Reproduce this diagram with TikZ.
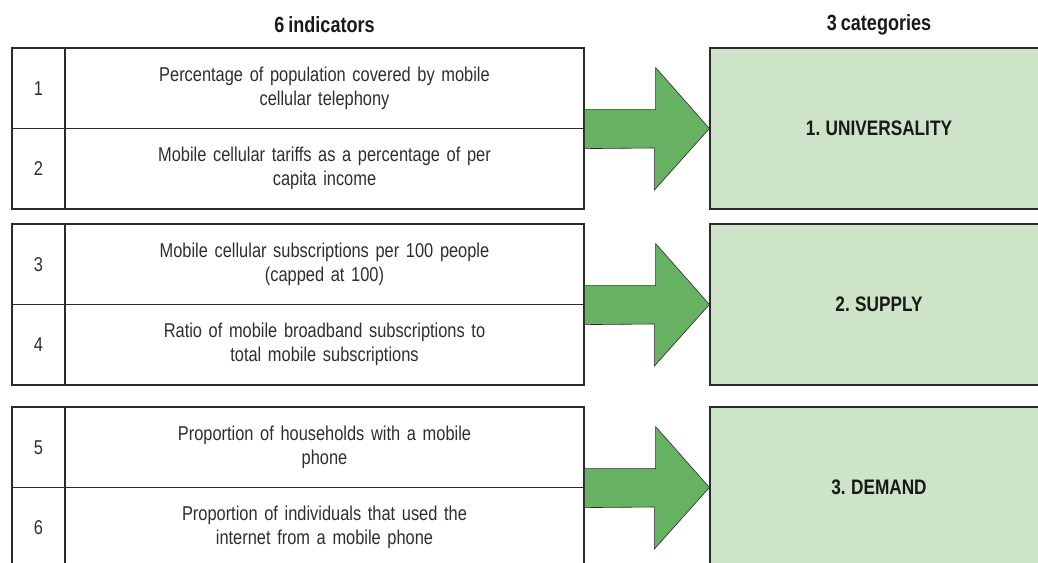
\documentclass[tikz,border=0pt]{standalone}
\usepackage{fontspec}
\setmainfont{Liberation Sans}[FakeStretch=0.82,WordSpace=0.8]
\definecolor{arrowgreen}{HTML}{66B262}
\definecolor{catgreen}{HTML}{CDE4C8}
\definecolor{linegray}{HTML}{2A2A2A}
\definecolor{textgray}{HTML}{2E2E2E}
\begin{document}
\begin{tikzpicture}[
x=1pt,y=1pt,
numcell/.style={
rectangle,draw=linegray,line width=1.2pt,
minimum width=53pt,
minimum height=80.5pt,
inner sep=0pt,
text=textgray,
font=\fontsize{20}{24}\selectfont
},
txtcell/.style={
rectangle,draw=linegray,line width=1.2pt,
align=center,
text width=440pt,
minimum width=519pt,
minimum height=80.5pt,
inner sep=0pt,
text=textgray,
font=\fontsize{20}{24}\selectfont
},
cat/.style={
rectangle,draw=linegray,line width=1.2pt,
fill=catgreen,
minimum width=338pt,
minimum height=161pt,
inner sep=0pt,
text=black!90,
font=\fontsize{21}{25}\selectfont\bfseries
},
head/.style={text=black!90,font=\fontsize{22}{26}\selectfont\bfseries},
bigarrow/.style={fill=arrowgreen,draw=linegray,line width=0.6pt,line join=miter}
]
\useasboundingbox (0,0) rectangle (1038,-562);

% =======================
% LEFT COLUMN (INDICATORS)
% =======================

\node[numcell] (n1) at (38.5,-88.25) {1};
\node[txtcell] (t1) at (324.5,-88.25)
{Percentage of population covered by mobile\\cellular telephony};
\node[numcell] (n2) at (38.5,-168.75) {2};
\node[txtcell] (t2) at (324.5,-168.75)
{Mobile cellular tariffs as a percentage of per\\capita income};

\node[numcell] (n3) at (38.5,-264.25) {3};
\node[txtcell] (t3) at (324.5,-264.25)
{Mobile cellular subscriptions per 100 people\\(capped at 100)};
\node[numcell] (n4) at (38.5,-344.75) {4};
\node[txtcell] (t4) at (324.5,-344.75)
{Ratio of mobile broadband subscriptions to\\total mobile subscriptions};

\node[numcell] (n5) at (38.5,-447.25) {5};
\node[txtcell] (t5) at (324.5,-447.25)
{Proportion of households with a mobile\\phone};
\node[numcell] (n6) at (38.5,-527.75) {6};
\node[txtcell] (t6) at (324.5,-527.75)
{Proportion of individuals that used the\\internet from a mobile phone};

% =======================
% RIGHT COLUMN (CATEGORIES)
% =======================

\node[cat] (c1) at (879,-128.5) {1. UNIVERSALITY};
\node[cat] (c2) at (879,-304.5) {2. SUPPLY};
\node[cat] (c3) at (879,-487.5) {3. DEMAND};

% =======================
% ARROWS
% =======================

\draw[bigarrow] ([yshift=19.5pt]t1.south east) -- ++(71,0) -- ++(0,42)
-- (c1.west) -- ++(-55,-61.5) -- ++(0,42) -- ([yshift=-19.5pt]t1.south east) -- cycle;
\draw[bigarrow] ([yshift=19.5pt]t3.south east) -- ++(71,0) -- ++(0,42)
-- (c2.west) -- ++(-55,-61.5) -- ++(0,42) -- ([yshift=-19.5pt]t3.south east) -- cycle;
\draw[bigarrow] ([yshift=19.5pt]t5.south east) -- ++(71,0) -- ++(0,42)
-- (c3.west) -- ++(-55,-61.5) -- ++(0,42) -- ([yshift=-19.5pt]t5.south east) -- cycle;

% =======================
% LABELS
% =======================

\node[head] (hind) at (324.5,-25) {6 indicators};
\node[head] (hcat) at (879,-25) {3 categories};

\end{tikzpicture}
\end{document}
